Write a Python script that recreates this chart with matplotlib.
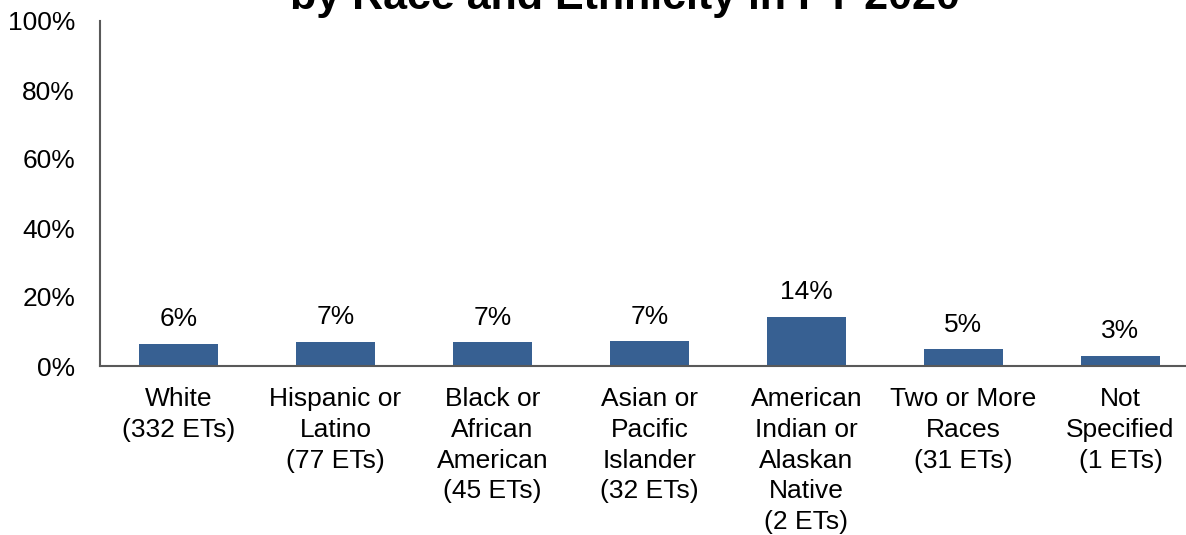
import matplotlib
matplotlib.use('Agg')
from matplotlib import pyplot as plt

plt.rcParams['font.family'] = ['Liberation Sans', 'DejaVu Sans']

categories = ['White\n(332 ETs)', 'Hispanic or\nLatino\n(77 ETs)', 'Black or\nAfrican\nAmerican\n(45 ETs)',
              'Asian or\nPacific\nIslander\n(32 ETs)', 'American\nIndian or\nAlaskan\nNative\n(2 ETs)',
              'Two or More\nRaces\n(31 ETs)', 'Not\nSpecified\n(1 ETs)']
values = [6.4, 7.0, 6.9, 7.2, 14.3, 4.9, 2.9]
labels = ['6%', '7%', '7%', '7%', '14%', '5%', '3%']

fig = plt.figure(figsize=(11.86, 5.35), dpi=100)
ax = fig.add_axes([100 / 1186, (535 - 366) / 535, 1099 / 1186, 345 / 535])

x = range(len(values))
bars = ax.bar(x, values, width=0.5, color='#376092')
for b, lab in zip(bars, labels):
    ax.annotate(lab, (b.get_x() + b.get_width() / 2, b.get_height()), xytext=(0, 9),
                textcoords='offset points', ha='center', va='bottom', fontsize=19)

ax.set_xlim(-0.5, 6.5)
ax.set_ylim(0, 100)
ax.set_yticks([0, 20, 40, 60, 80, 100])
ax.set_yticklabels(['0%', '20%', '40%', '60%', '80%', '100%'], fontsize=19)
ax.set_xticks(list(x))
ax.set_xticklabels(categories, fontsize=19, va='top', linespacing=1.36)
ax.tick_params(axis='both', length=0)
ax.tick_params(axis='x', pad=15)
ax.tick_params(axis='y', pad=18)
for s in ['top', 'right']:
    ax.spines[s].set_visible(False)
for s in ['left', 'bottom']:
    ax.spines[s].set_color('#595959')
    ax.spines[s].set_linewidth(1.5)

# title is cropped at the top in the source image
fig.text(0.527, 1 - 9 / 535, 'by Race and Ethnicity in FY 2020', ha='center', va='baseline',
         fontsize=31, fontweight='bold')

plt.savefig('out.png', dpi=100)
